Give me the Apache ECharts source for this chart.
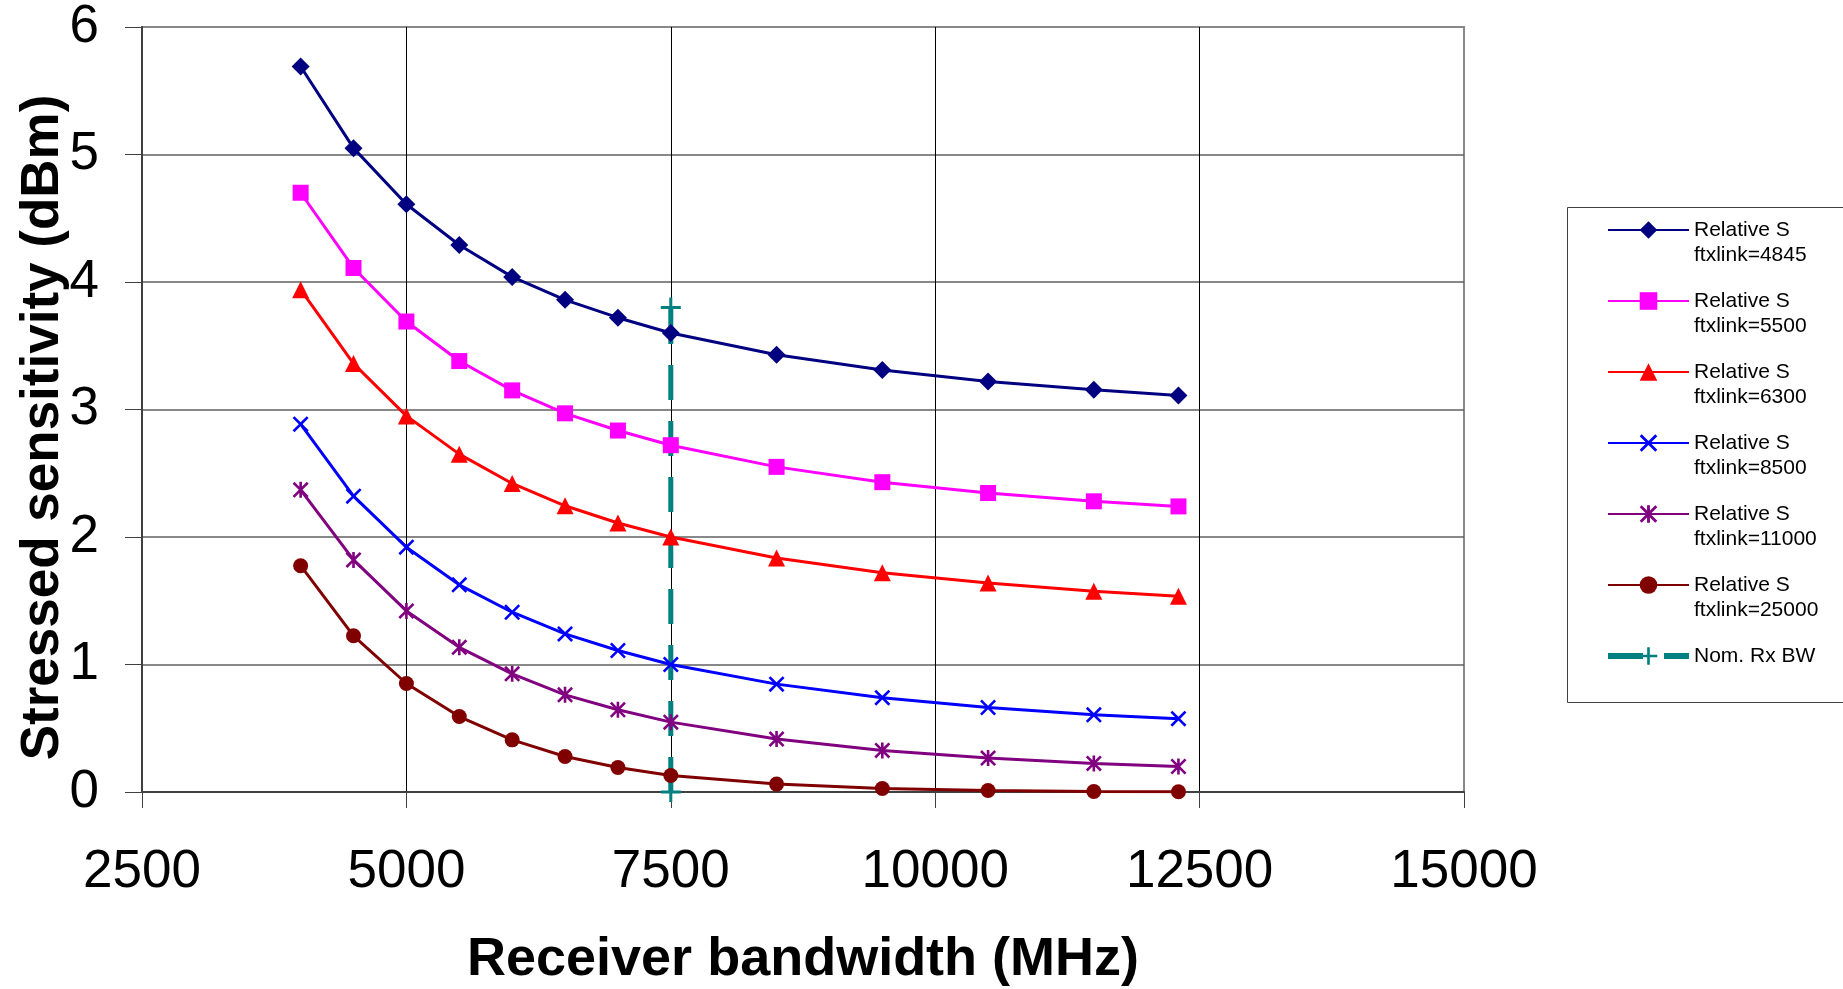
<!DOCTYPE html>
<html><head><meta charset="utf-8">
<script src="https://cdn.jsdelivr.net/npm/echarts@6/dist/echarts.min.js"></script>
<style>html,body{margin:0;padding:0;background:#fff}#chart{width:1843px;height:989px}</style>
</head><body><div id="chart"></div>
<script>
// ---------- data ----------
const xValues = [4000, 4500, 5000, 5500, 6000, 6500, 7000, 7500, 8500, 9500, 10500, 11500, 12300];
const s4845  = [5.69, 5.05, 4.61, 4.29, 4.04, 3.86, 3.72, 3.60, 3.43, 3.31, 3.22, 3.155, 3.11];
const s5500  = [4.70, 4.11, 3.69, 3.38, 3.15, 2.97, 2.835, 2.72, 2.55, 2.43, 2.345, 2.28, 2.24];
const s6300  = [3.94, 3.36, 2.95, 2.65, 2.42, 2.245, 2.11, 2.00, 1.835, 1.72, 1.64, 1.575, 1.535];
const s8500  = [2.885, 2.32, 1.92, 1.625, 1.41, 1.24, 1.11, 1.00, 0.846, 0.74, 0.663, 0.605, 0.575];
const s11000 = [2.37, 1.82, 1.42, 1.135, 0.927, 0.762, 0.645, 0.548, 0.415, 0.326, 0.266, 0.224, 0.20];
const s25000 = [1.775, 1.225, 0.851, 0.592, 0.409, 0.278, 0.192, 0.129, 0.062, 0.028, 0.012, 0.004, 0.002];
const nomX = [7500, 7500];
const nomY = [0, 3.8];
const seriesNames = ['Relative S\nftxlink=4845', 'Relative S\nftxlink=5500', 'Relative S\nftxlink=6300',
                     'Relative S\nftxlink=8500', 'Relative S\nftxlink=11000', 'Relative S\nftxlink=25000'];
const nomName = 'Nom. Rx BW';
const xTicks = [2500, 5000, 7500, 10000, 12500, 15000];
const yTicks = [0, 1, 2, 3, 4, 5, 6];
const xTitle = 'Receiver bandwidth (MHz)';
const yTitle = 'Stressed sensitivity (dBm)';

// ---------- marker shapes ----------
function polyPath(pts) { return 'M' + pts.map(p => p[0].toFixed(4) + ',' + p[1].toFixed(4)).join(' L') + ' Z'; }
function plusPts(h) { return [[-h,-1],[h,-1],[h,-h],[1,-h],[1,h],[h,h],[h,1],[-h,1],[-h,h],[-1,h],[-1,-h],[-h,-h]]; }
const rot45 = p => [(p[0] - p[1]) / Math.SQRT2, (p[0] + p[1]) / Math.SQRT2];
const hx = 0.13;
const xShape = polyPath(plusPts(hx).map(rot45));
const ext = (1 + hx) / Math.SQRT2;
const barShape = polyPath([[-hx, -ext], [hx, -ext], [hx, ext], [-hx, ext]]);
const crossSymbol = 'path://' + xShape;
const starSymbol = 'path://' + xShape + ' ' + barShape;
const plusSymbol = 'path://' + polyPath(plusPts(0.15));

const FONT = '"Liberation Sans", Arial, sans-serif';

function mk(name, ys, color, symbol, size) {
  return {
    type: 'line', name: name,
    data: xValues.map((x, i) => [x, ys[i]]),
    symbol: symbol, symbolSize: size,
    lineStyle: { color: color, width: 3 },
    itemStyle: { color: color },
    emphasis: { disabled: true },
    z: 3
  };
}

const series = [
  {
    type: 'line', name: nomName,
    data: nomX.map((x, i) => [x, nomY[i]]),
    symbol: plusSymbol, symbolSize: 20,
    lineStyle: { color: '#008080', width: 5, type: [35, 21] },
    itemStyle: { color: '#008080' },
    emphasis: { disabled: true },
    clip: false, z: 2
  },
  mk(seriesNames[0], s4845, '#000080', 'diamond', 18),
  mk(seriesNames[1], s5500, '#FF00FF', 'rect', 16),
  mk(seriesNames[2], s6300, '#FF0000', 'triangle', 17),
  mk(seriesNames[3], s8500, '#0000FF', crossSymbol, 16),
  mk(seriesNames[4], s11000, '#800080', starSymbol, 16),
  mk(seriesNames[5], s25000, '#800000', 'circle', 15)
];

const chart = echarts.init(document.getElementById('chart'), null, { renderer: 'canvas' });
chart.setOption({
  animation: false,
  backgroundColor: '#fff',
  textStyle: { fontFamily: FONT },
  grid: { left: 142, right: 379, top: 27, bottom: 197, outerBoundsMode: 'none', containLabel: false,
          show: true, borderColor: '#888', borderWidth: 2, backgroundColor: 'transparent' },
  xAxis: {
    type: 'value',
    min: xTicks[0], max: xTicks[xTicks.length - 1], interval: xTicks[1] - xTicks[0],
    name: xTitle, nameLocation: 'middle', nameGap: 141, nameMoveOverlap: false,
    nameTextStyle: { fontSize: 54, fontWeight: 'bold', color: '#000', fontFamily: FONT },
    axisLine: { show: true, lineStyle: { color: '#404040', width: 2 } },
    axisTick: { show: true, length: 16, lineStyle: { color: '#404040', width: 1 } },
    axisLabel: { fontSize: 53, color: '#000', margin: 54, fontFamily: FONT, formatter: v => String(v) },
    splitLine: { show: true, showMinLine: false, showMaxLine: false, lineStyle: { color: '#000', width: 1 } }
  },
  yAxis: {
    type: 'value',
    min: yTicks[0], max: yTicks[yTicks.length - 1], interval: yTicks[1] - yTicks[0],
    name: yTitle, nameLocation: 'middle', nameGap: 72, nameMoveOverlap: false,
    nameTextStyle: { fontSize: 53, fontWeight: 'bold', color: '#000', fontFamily: FONT, padding: [0, 36, 0, 0] },
    axisLine: { show: true, lineStyle: { color: '#404040', width: 2 } },
    axisTick: { show: true, length: 17, lineStyle: { color: '#404040', width: 1 } },
    axisLabel: { fontSize: 53, color: '#000', margin: 43, fontFamily: FONT, formatter: v => String(v) },
    splitLine: { show: true, showMinLine: false, showMaxLine: false, lineStyle: { color: '#606060', width: 1.5 } }
  },
  legend: {
    orient: 'vertical', left: 1605, top: 192.5, padding: 0,
    itemWidth: 81, itemHeight: 22, itemGap: -4,
    selectedMode: false,
    data: seriesNames.map(n => ({ name: n })).concat([{ name: nomName, lineStyle: { width: 6 } }]),
    formatter: function (name) { return name.indexOf('\n') >= 0 ? '\n' + name : '\n' + name + '\n'; },
    textStyle: { fontSize: 21, lineHeight: 25, color: '#000', fontFamily: FONT }
  },
  graphic: [{
    type: 'rect', silent: true,
    shape: { x: 1567.5, y: 207.5, width: 300, height: 495 },
    style: { fill: 'none', stroke: '#404040', lineWidth: 1 }
  }],
  series: series
});
</script></body></html>
